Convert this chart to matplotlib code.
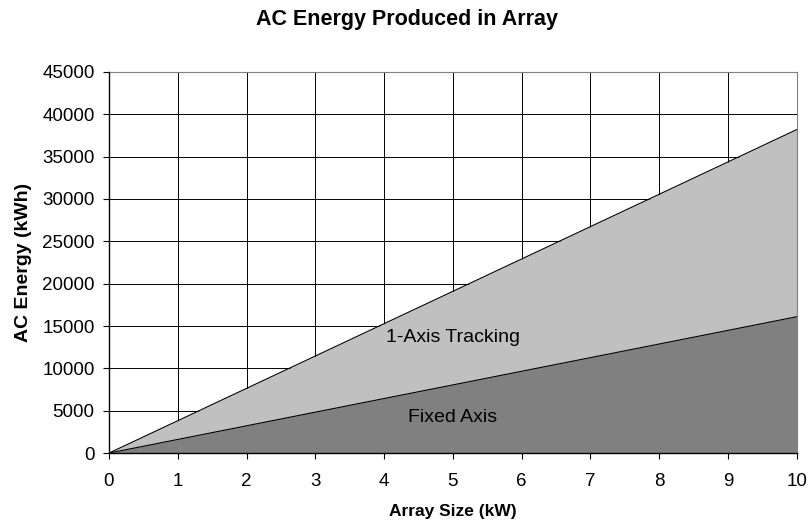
import matplotlib
matplotlib.use("Agg")
import matplotlib.pyplot as plt

plt.rcParams['font.family'] = ['Liberation Sans', 'DejaVu Sans']

array_size = [0, 1, 2, 3, 4, 5, 6, 7, 8, 9, 10]
tracking = [0, 3820, 7640, 11460, 15280, 19100, 22920, 26740, 30560, 34380, 38200]
fixed = [0, 1610, 3220, 4830, 6440, 8050, 9660, 11270, 12880, 14490, 16100]
y_ticks = [0, 5000, 10000, 15000, 20000, 25000, 30000, 35000, 40000, 45000]

fig = plt.figure(figsize=(8.09, 5.25), dpi=100)
ax = fig.add_axes([0.1347, 0.137, 0.8503, 0.726])

ax.fill_between(array_size, 0, tracking, color='#C0C0C0', zorder=2, linewidth=0)
ax.plot(array_size, tracking, color='black', linewidth=0.8, zorder=3)
ax.fill_between(array_size, 0, fixed, color='#808080', zorder=4, linewidth=0)
ax.plot(array_size, fixed, color='black', linewidth=0.8, zorder=5)

ax.set_xlim(0, 10)
ax.set_ylim(0, 45000)
ax.set_xticks(array_size)
ax.set_yticks(y_ticks)
ax.grid(True, color='black', linewidth=0.7, zorder=1)
ax.set_axisbelow(True)
ax.tick_params(direction='out', length=4.3, width=0.8, labelsize=13.5)
ax.tick_params(axis='x', pad=10)
ax.tick_params(axis='y', pad=6)

for s in ['top', 'right']:
    ax.spines[s].set_color('#808080')
    ax.spines[s].set_linewidth(0.8)
for s in ['left', 'bottom']:
    ax.spines[s].set_color('black')
    ax.spines[s].set_linewidth(1.0)
    ax.spines[s].set_zorder(6)

ax.text(5.0, 13600, '1-Axis Tracking', ha='center', va='center', fontsize=14, zorder=6)
ax.text(5.0, 4250, 'Fixed Axis', ha='center', va='center', fontsize=14, zorder=6)

ax.set_xlabel('Array Size (kW)', fontsize=12.5, fontweight='bold', labelpad=10)
ax.set_ylabel('AC Energy (kWh)', fontsize=14, fontweight='bold', labelpad=7)
fig.text(0.5025, 0.952, 'AC Energy Produced in Array', ha='center', va='baseline',
         fontsize=15.5, fontweight='bold')

fig.savefig('out.png', dpi=100)
